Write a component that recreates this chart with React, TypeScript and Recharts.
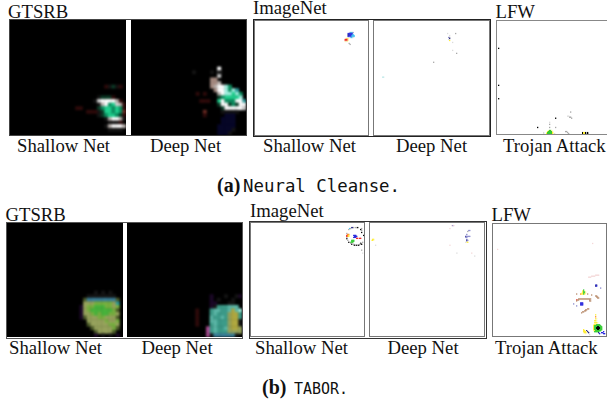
import React from 'react';
import { ScatterChart, Scatter, XAxis, YAxis } from 'recharts';

type Run = [number, number, string];

// each run is [row, first column, one tone letter per column, '.' = nothing]
const gtsrbShallowA: Run[] = [
  [18, 26, 'rkdkr'],
  [21, 24, 'kdddr'],
  [22, 23, 'kwWWWWTr'],
  [23, 24, 'kTWgGwTr'],
  [24, 24, 'dgGGgGgr'],
  [25, 24, 'kdGGgGgR'],
  [26, 24, 'kdgGGgdr'],
  [27, 26, 'kTWWTk'],
  [28, 26, '.kkkr'],
  [29, 26, 'kTWWWT'],
  [30, 27, 'kkkk'],
  [24, 18, 'rr'],
  [25, 21, 'rrr'],
];
const gtsrbDeepA: Run[] = [
  [13, 24, 'W'],
  [14, 24, 'W'],
  [15, 24, 'w'],
  [16, 22, 'tt'],
  [17, 22, 'ttT'],
  [18, 22, 'tTWWCg'],
  [19, 23, 'tWWCgCc'],
  [20, 24, 'TWCCGCg'],
  [21, 24, 'dgGGGGC'],
  [22, 24, 'GWgggWWc'],
  [23, 24, 'dWWdgdWW'],
  [24, 25, 'dWWWWWw'],
  [25, 20, 'R....kkkkk'],
  [26, 20, 'r.....bbb'],
  [27, 25, 'bbbb'],
  [28, 25, 'bbbb'],
  [29, 24, 'bbbbb'],
  [30, 24, 'bbbbk'],
  [31, 24, 'bbbk'],
  [14, 17, 'k....k.k'],
  [20, 18, 'r.r'],
  [22, 19, 'rrr'],
];
const gtsrbShallowB: Run[] = [
  [19, 24, 'k.k.k'],
  [20, 22, 'kkkkkkkk'],
  [21, 21, 'nBBBBBBBBn'],
  [22, 21, 'oooLLLLLoc'],
  [23, 20, 'poLLMMMLLoL'],
  [24, 20, 'poLMMMMMMLn'],
  [25, 20, 'pooLMLMMLLo'],
  [26, 20, 'pnoooLLooon'],
  [27, 21, '.oooooLooL'],
  [28, 21, '.noooooLLo'],
  [29, 21, '..noooooLn'],
  [30, 21, '...noooon.'],
  [31, 24, 'p.k.k.p'],
];
const gtsrbDeepB: Run[] = [
  [20, 23, 'p...k..kp'],
  [21, 23, 'p.k...k'],
  [22, 23, 'pp...kk'],
  [23, 23, 'pkqqqQQQ'],
  [24, 19, 'r...qQQqqQyQCC'],
  [25, 19, 'r...qQqqqoyyq'],
  [26, 19, 'r...QqqQqoyyq'],
  [27, 19, 'r...QQqqqoyyk'],
  [28, 19, 'r...qQqqqoyyk'],
  [29, 22, 'mqQqqQoyyo'],
  [30, 22, 'mqQqqqoooo'],
  [31, 22, 'mkBBBBBBk'],
];
const imagenetShallowA: Run[] = [
  [12, 96, 'JAAJ'],
  [13, 94, 'UUUUU'],
  [14, 94, 'ZUUUUA'],
  [15, 94, 'ZUUUAAA'],
  [16, 94, 'UUUUAAA'],
  [17, 95, 'eeAAe'],
  [18, 92, 'HYH'],
  [19, 91, 'XXXH'],
  [20, 91, 'XXXH'],
  [21, 91, 'HeH'],
  [23, 95, 'E'],
  [24, 96, 'E'],
];
const imagenetDeepA: Run[] = [
  [13, 73, 'e.......E'],
  [15, 75, 'e'],
  [17, 74, 'JE'],
  [18, 75, 'Z'],
  [19, 74, 'e'],
  [20, 75, 'Y'],
  [22, 78, 'e'],
  [30, 78, 'e'],
  [33, 82, 'E'],
  [42, 59, 'E'],
  [57, 8, 'FF'],
];
const lfwTrojanA: Run[] = [
  [26, 1, 'K'],
  [62, 1, 'K'],
  [75, 1, 'K'],
  [88, 73, 'E'],
  [92, 70, 'ee'],
  [93, 72, 'EE'],
  [94, 74, 'E'],
  [94, 58, 'K'],
  [98, 52, 'e'],
  [100, 52, 'E'],
  [103, 40, 'K'],
  [103, 52, 'E'],
  [103, 58, 'E'],
  [106, 52, 'E'],
  [107, 68, 'EE'],
  [108, 70, 'E'],
  [108, 85, 'KYYK.K'],
  [109, 85, 'KYYK.K'],
  [109, 71, 'E'],
  [106, 51, 'HVVH'],
  [107, 50, 'YVVVVH'],
  [108, 46, 'e..HVVVVVY'],
  [109, 46, 'e..YVVVVVY.e'],
  [110, 46, 'e..VVKKVVY'],
  [111, 50, 'VKKKV.....Y'],
  [112, 51, 'KKKK......YY'],
  [112, 87, 'K'],
];
const imagenetShallowB: Run[] = [
  [4, 101, 'ZZE.EEK'],
  [5, 99, 'AE..........E'],
  [6, 98, 'E...........K'],
  [7, 111, 'E'],
  [9, 111, 'K'],
  [10, 96, 'E'],
  [11, 97, 'OO'],
  [12, 96, 'XOY....UUU.......K'],
  [13, 96, 'XOY.....UUU'],
  [14, 103, 'UUU'],
  [15, 96, 'K.........XX.XX'],
  [16, 96, 'E'],
  [17, 97, 'E...VVV'],
  [18, 101, 'VVV..........K'],
  [19, 98, 'K.VVV.........E'],
  [20, 100, 'E.........K'],
  [21, 101, 'KEE.....EEK'],
  [22, 103, 'EKEKEK'],
  [27, 111, 'E'],
  [30, 112, 'e'],
];
const imagenetDeepB: Run[] = [
  [2, 82, 'IJI'],
  [5, 80, 'I'],
  [7, 99, 'JJ'],
  [8, 98, 'E'],
  [11, 97, 'J'],
  [13, 96, 'ZJJJJ'],
  [14, 96, 'JJ'],
  [16, 2, 'YY'],
  [17, 1, 'HYH.'],
  [16, 97, 'J'],
  [17, 97, 'ZJ'],
  [18, 97, 'J'],
  [19, 96, 'eHY'],
  [22, 5, 'e'],
  [22, 80, 'I'],
  [30, 87, 'e'],
  [30, 102, 'I'],
  [33, 105, 'e'],
];
const lfwTrojanB: Run[] = [
  [19, 99, 'I'],
  [25, 4, 'I'],
  [51, 102, 'IIII'],
  [52, 98, 'IIII'],
  [53, 95, 'III'],
  [61, 102, 'UZ'],
  [62, 102, 'ZU'],
  [64, 107, 'J'],
  [66, 90, 'V'],
  [67, 89, 'YVH'],
  [68, 89, 'YVVH'],
  [69, 88, 'HYVVH'],
  [70, 83, 'N...OYYVY..N'],
  [71, 98, 'N'],
  [72, 102, 'NN'],
  [73, 103, 'NN'],
  [74, 104, 'NN'],
  [75, 85, 'NNNNNNNNNNNNN'],
  [76, 83, 'XNN..........N'],
  [77, 83, 'N............NN'],
  [79, 87, 'UUU'],
  [80, 87, 'UUU'],
  [81, 87, 'UUU'],
  [80, 80, 'J'],
  [82, 83, 'J'],
  [85, 94, 'NN'],
  [86, 92, 'NN'],
  [87, 91, 'NN'],
  [88, 89, 'NN'],
  [89, 88, 'N'],
  [91, 102, 'Y'],
  [93, 102, 'O'],
  [95, 102, 'YH'],
  [97, 101, 'YYH'],
  [99, 101, 'YYYH'],
  [101, 100, 'HYYVVVV'],
  [102, 100, 'YVVVVVVV'],
  [103, 100, 'YVVVKKVVV'],
  [104, 100, 'YVVKKKKVV'],
  [105, 100, 'YVVKKKKVV'],
  [106, 90, 'Y.........YVVVKKVVV'],
  [107, 90, 'YY.Z......HYVVVVVV'],
  [108, 90, 'YYYHZ......VVVVV....U'],
  [109, 90, 'HYYH.Z.........Z..UU'],
  [110, 92, 'H.............U...UU'],
  [111, 96, 'e'],
];

// what each tone letter paints
const tones: Record<string, string> = {
  W: '#ffffff', w: '#cfcfcf', G: '#1fd08e', g: '#0c8f60', d: '#0b3a26', r: '#2e0a0a', R: '#6a2a22',
  b: '#060628', t: '#a58a80', T: '#b8b0ac', C: '#a0f0e0', c: '#2a9a9a', k: '#141414', p: '#1c0828',
  o: '#96a25c', L: '#78b040', M: '#48b43c', B: '#3a7f9a', n: '#4a5a28', y: '#b0a840', q: '#3c9c8a',
  Q: '#5cb8a8', m: '#a84a90',
  K: '#000000', E: '#a8a8a8', e: '#dcdcdc', Y: '#ffee33', H: '#fff6a0', V: '#33cc33', U: '#2222dd',
  A: '#33bbee', X: '#ee2222', O: '#ff8822', I: '#f4d8d8', J: '#8888cc', N: '#b88a6a', F: '#bfe8e8', Z: '#222288',
};

const toCells = (runs: Run[]) =>
  runs.flatMap(([row, start, letters]) =>
    letters.split('').flatMap((tone, i) => (tone === '.' ? [] : [{ col: start + i, row, tone }])),
  );

interface HeatPanelProps {
  runs: Run[];
  left: number;
  top: number;
  width: number;
  height: number;
  grid: number;
  background: string;
  blur: number;
}

const HeatPanel: React.FC<HeatPanelProps> = ({ runs, left, top, width, height, grid, background, blur }) => {
  const cw = width / grid;
  const ch = height / grid;
  return (
    <div style={{ position: 'absolute', left, top, width, height, background, overflow: 'hidden' }}>
      <div style={{ filter: `blur(${blur}px)` }}>
        <ScatterChart width={width} height={height} margin={{ top: 0, right: 0, bottom: 0, left: 0 }}>
          <XAxis type="number" dataKey="col" domain={[0, grid]} hide allowDataOverflow />
          <YAxis type="number" dataKey="row" domain={[0, grid]} hide reversed allowDataOverflow />
          <Scatter
            data={toCells(runs)}
            isAnimationActive={false}
            shape={(p: any) => (
              <rect x={p.cx} y={p.cy} width={cw + 0.3} height={ch + 0.3} fill={tones[p.payload.tone]} />
            )}
          />
        </ScatterChart>
      </div>
    </div>
  );
};

const Box = ({ left, top, width, height, color, thick = 1 }: any) => (
  <div style={{ position: 'absolute', left, top, width, height, border: `${thick}px solid ${color}`, boxSizing: 'border-box' }} />
);

const serif = '"Liberation Serif", serif';
const mono = '"DejaVu Sans Mono", monospace';

const Label = ({ x, y, children }: any) => (
  <text x={x} y={y} fontFamily={serif} fontSize={18.7} fill="#111">
    {children}
  </text>
);

export default function App() {
  return (
    <div style={{ position: 'absolute', left: 0, top: 0, width: 607, height: 402, background: '#fff', overflow: 'hidden' }}>
      {/* (a) Neural Cleanse */}
      <HeatPanel runs={gtsrbShallowA} left={10} top={20} width={116} height={115} grid={32} background="#000" blur={1} />
      <HeatPanel runs={gtsrbDeepA} left={131} top={20} width={115} height={115} grid={32} background="#000" blur={1} />
      <Box left={9} top={19} width={238} height={117} color="#444" />
      <HeatPanel runs={imagenetShallowA} left={256} top={20} width={112} height={114} grid={115} background="#fff" blur={0.45} />
      <HeatPanel runs={imagenetDeepA} left={374} top={20} width={115} height={114} grid={115} background="#fff" blur={0.45} />
      <Box left={253} top={19} width={238} height={118} color="#222" />
      <Box left={254} top={20} width={115} height={116} color="#777" thick={1.5} />
      <Box left={373} top={20} width={117} height={116} color="#777" thick={1.5} />
      <HeatPanel runs={lfwTrojanA} left={497} top={21} width={110} height={113} grid={110} background="#fff" blur={0.45} />
      <Box left={496} top={20} width={120} height={115} color="#888" />

      {/* (b) TABOR */}
      <HeatPanel runs={gtsrbShallowB} left={7} top={223} width={116} height={114} grid={32} background="#000" blur={1.3} />
      <HeatPanel runs={gtsrbDeepB} left={127} top={223} width={115} height={114} grid={32} background="#000" blur={1.3} />
      <Box left={6} top={222} width={237} height={117} color="#555" />
      <HeatPanel runs={imagenetShallowB} left={251} top={223} width={114} height={113} grid={115} background="#fff" blur={0.45} />
      <HeatPanel runs={imagenetDeepB} left={370} top={223} width={114} height={113} grid={115} background="#fff" blur={0.45} />
      <Box left={249} top={221} width={238} height={118} color="#333" />
      <Box left={250} top={222} width={115} height={115} color="#777" thick={1.5} />
      <Box left={369} top={222} width={116} height={115} color="#777" thick={1.5} />
      <HeatPanel runs={lfwTrojanB} left={493} top={224} width={113} height={112} grid={113} background="#fff" blur={0.45} />
      <Box left={492} top={223} width={115} height={114} color="#777" />

      <svg width={607} height={402} style={{ position: 'absolute', left: 0, top: 0 }}>
        <Label x={8} y={17.5}>GTSRB</Label>
        <Label x={253} y={14}>ImageNet</Label>
        <Label x={495.5} y={17.5}>LFW</Label>
        <Label x={17} y={152}>Shallow Net</Label>
        <Label x={150} y={152}>Deep Net</Label>
        <Label x={263} y={152}>Shallow Net</Label>
        <Label x={396} y={152}>Deep Net</Label>
        <Label x={503} y={152}>Trojan Attack</Label>
        <Label x={5.5} y={220.5}>GTSRB</Label>
        <Label x={250} y={216.5}>ImageNet</Label>
        <Label x={491.5} y={220.5}>LFW</Label>
        <Label x={9} y={354}>Shallow Net</Label>
        <Label x={141.5} y={354}>Deep Net</Label>
        <Label x={255} y={354}>Shallow Net</Label>
        <Label x={387.5} y={354}>Deep Net</Label>
        <Label x={495} y={354}>Trojan Attack</Label>
        <text x={217} y={192} fontFamily={serif} fontSize={20} fontWeight="bold" fill="#111">(a)</text>
        <text x={243} y={192} fontFamily={mono} fontSize={17.4} fill="#111">Neural Cleanse.</text>
        <text x={262} y={394} fontFamily={serif} fontSize={20} fontWeight="bold" fill="#111">(b)</text>
        <text x={294} y={394} fontFamily={mono} fontSize={16.5} textLength={54} lengthAdjust="spacingAndGlyphs" fill="#111">TABOR.</text>
      </svg>
    </div>
  );
}
